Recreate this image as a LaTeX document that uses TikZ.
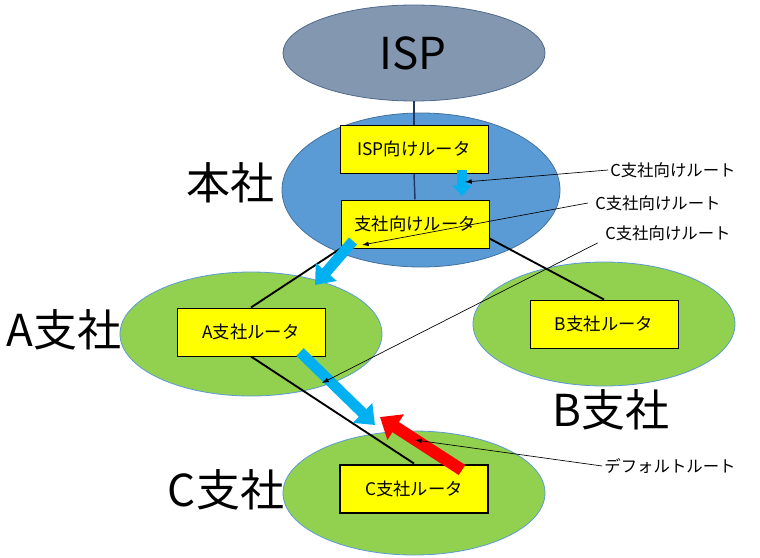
\documentclass[tikz,border=0pt]{standalone}
\usepackage{fontspec}
\setmainfont{Noto Sans CJK JP}
\usetikzlibrary{positioning,arrows.meta,shapes.geometric,backgrounds}
\definecolor{cisp}{HTML}{8497B0}
\definecolor{cispline}{HTML}{4F6A8C}
\definecolor{chq}{HTML}{5B9BD5}
\definecolor{chqline}{HTML}{41719C}
\definecolor{cbranch}{HTML}{92D050}
\definecolor{crouter}{HTML}{FFFF00}
\definecolor{cnavy}{HTML}{1F3864}
\definecolor{cflow}{HTML}{00B0F0}
\definecolor{cdefault}{HTML}{FF0000}
\pgfdeclarelayer{sites}
\pgfsetlayers{sites,background,main}

\begin{document}
\begin{tikzpicture}[x=0.75pt, y=-0.75pt,
  site/.style={ellipse, draw=chq, line width=0.6pt, inner sep=0pt,
    minimum width=196.5pt, minimum height=93pt, fill=cbranch},
  router/.style={rectangle, draw=black, line width=0.75pt, fill=crouter,
    minimum width=111pt, minimum height=36pt, font=\fontsize{13}{15}\selectfont},
  big/.style={font=\fontsize{33}{36}\selectfont, inner sep=0pt},
  note/.style={font=\fontsize{12.3}{14}\selectfont, inner sep=1.5pt},
  uplink/.style={cnavy, line width=1.1pt},
  link/.style={black, line width=1.4pt},
  callout/.style={black, line width=0.5pt, -{Latex[length=5pt,width=3.5pt]}},
  flow/.style={line width=8pt, -{Triangle[length=13pt,width=20pt]}}]

\useasboundingbox (0,0) rectangle (760,557);

\begin{pgfonlayer}{sites}
\node[site, fill=cisp, draw=cispline, minimum height=72pt] (isp) at (414,53) {};
\node[site, fill=chq, draw=chqline, minimum width=208.5pt, minimum height=115.5pt]
  (hq) at (421,190) {};
\node[site] (sa) at (251,334) {};
\node[site] (sb) at (604,324) {};
\node[site] (sc) at (414,493) {};
\end{pgfonlayer}

\node[big] (lisp) at (413,53) {ISP};
\node[big] (lhq) at (230,183) {本社};
\node[big] (la) at (64,330) {A支社};
\node[big] (lb) at (611,410) {B支社};
\node[big] (lc) at (226,490) {C支社};

\node[router] (isprt) at (414,149) {ISP向けルータ};
\node[router] (brrt) at (415,224) {支社向けルータ};
\node[router] (art) at (251,332) {A支社ルータ};
\node[router] (brt) at (604,324) {B支社ルータ};
\node[router, line width=2.2pt] (crt) at (414,489) {C支社ルータ};

\begin{scope}[on background layer]
\draw[uplink] (isp.south) -- (isprt.north);
\draw[uplink] (isprt.south) -- (brrt.north);
\draw[link] (brrt.south west) -- (art.north);
\draw[link] ([yshift=7.5pt]brrt.south east) -- (brt.north);
\draw[link] (art.south) -- (crt.north);
\end{scope}

% route flow
\coordinate (f0a) at (462,170);
\coordinate (f0b) at (462,196);
\coordinate (f1a) at (353,241);
\coordinate (f1b) at (315,285);
\coordinate (f2a) at (300,352);
\coordinate (f2b) at (375,425);
\coordinate (f3a) at (462,470);
\coordinate (f3b) at (380,417);
\draw[flow, cflow, line width=7pt, -{Triangle[length=8pt,width=14pt]}] (f0a) -- (f0b);
\draw[flow, cflow] (f1a) -- (f1b);
\draw[flow, cflow] (f2a) -- (f2b);
\draw[flow, cdefault, line width=9pt, -{Triangle[length=14pt,width=22pt]}] (f3a) -- (f3b);

% callouts
\node[note] (n1) at (673,170) {C支社向けルート};
\node[note] (n2) at (658,203) {C支社向けルート};
\node[note] (n3) at (668,233) {C支社向けルート};
\node[note] (n4) at (670,466) {デフォルトルート};
\coordinate (t1) at (465,182);
\coordinate (t2) at (362,245);
\coordinate (t3) at (322,383);
\coordinate (t4) at (415,440);
\draw[callout] (n1.west) -- (t1);
\draw[callout] ([xshift=-4pt]n2.west) -- (t2);
\draw[callout] ([xshift=-4pt]n3.south west) -- (t3);
\draw[callout] (n4.west) -- (t4);
\end{tikzpicture}
\end{document}
